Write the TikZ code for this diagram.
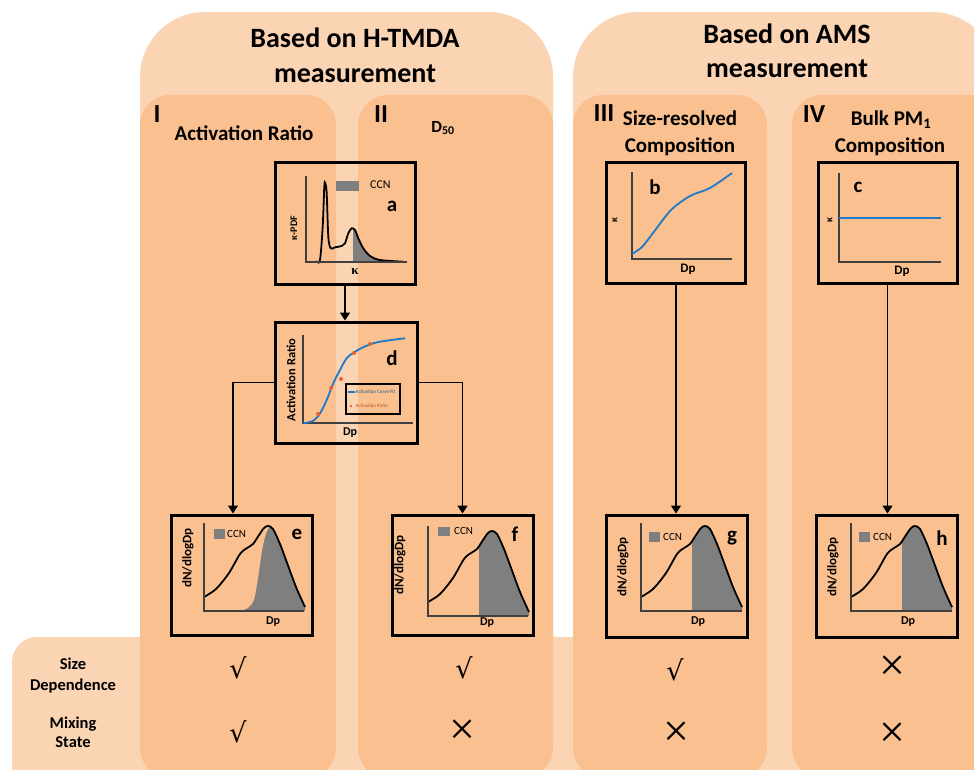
\documentclass[tikz,border=0pt]{standalone}
\usepackage{fontspec}
\setmainfont{Carlito}
\newfontfamily\dvs{DejaVu Sans}
\newfontfamily\lserif{Liberation Serif}
\usetikzlibrary{arrows.meta}
\definecolor{lightp}{HTML}{FBD4B4}
\definecolor{darkp}{HTML}{FAC090}
\definecolor{ccngray}{HTML}{7F7F7F}
\definecolor{axisc}{HTML}{404040}
\definecolor{curveblue}{HTML}{1F78C8}
\definecolor{dotred}{HTML}{E8642A}
\begin{document}
\begin{tikzpicture}[x=1pt,y=-1pt,
 panelbox/.style={draw=black,line width=3pt,inner sep=0pt},
 arr/.style={line width=1.6pt,-{Triangle[width=10pt,length=8pt]}},
 axisln/.style={draw=axisc,line width=1.8pt},
 crv/.style={line width=1.8pt},
 bigtitle/.style={font=\bfseries\fontsize{28}{28}\selectfont,anchor=base,inner sep=0pt},
 collab/.style={font=\bfseries\fontsize{21}{21}\selectfont,anchor=base,inner sep=0pt},
 numlab/.style={font=\bfseries\fontsize{26}{26}\selectfont,anchor=base,inner sep=0pt},
 rowlab/.style={font=\bfseries\fontsize{16.5}{16.5}\selectfont,anchor=base,inner sep=0pt},
 sym/.style={font=\dvs\fontsize{27}{27}\selectfont,inner sep=0pt},
 xsym/.style={font=\lserif\fontsize{46}{46}\selectfont,inner sep=0pt},
 letter/.style={font=\bfseries\fontsize{21}{21}\selectfont,inner sep=0pt},
 dplab/.style={font=\bfseries\fontsize{12}{12}\selectfont,inner sep=0pt},
 dplabb/.style={font=\bfseries\fontsize{13}{13}\selectfont,inner sep=0pt},
 ylab/.style={font=\bfseries\fontsize{13}{13}\selectfont,rotate=90,inner sep=0pt},
 ccnlab/.style={font=\fontsize{11}{11}\selectfont,anchor=west,inner sep=0pt},
]
\useasboundingbox (0,0) rectangle (974,769);
\clip (0,0) rectangle (974,769);
\fill[white] (0,0) rectangle (974,769);
% backgrounds
\fill[lightp,rounded corners=25pt] (12,637) rectangle (1010,800);
\fill[lightp,rounded corners=65pt] (140,12) rectangle (553,850);
\fill[lightp,rounded corners=65pt] (573,12) rectangle (997,850);
\fill[darkp,rounded corners=30pt] (140,95) rectangle (336,778);
\fill[darkp,rounded corners=30pt] (358,95) rectangle (553,778);
\fill[darkp,rounded corners=30pt] (573,95) rectangle (767,778);
\fill[darkp,rounded corners=30pt] (792,95) rectangle (1010,778);
% titles
\node[bigtitle] (t1a) at (355,47) {Based on H-TMDA};
\node[bigtitle] (t1b) at (355,82) {measurement};
\node[bigtitle] (t2a) at (787,43) {Based on AMS};
\node[bigtitle] (t2b) at (787,77) {measurement};
\node[numlab] (c1) at (157,122) {I};
\node[collab] (c1t) at (244,140) {Activation Ratio};
\node[numlab] (c2) at (381,122) {II};
\node[collab,font=\bfseries\fontsize{17}{17}\selectfont] (c2t) at (443,132) {D\textsubscript{50}};
\node[numlab] (c3) at (604,121) {III};
\node[collab] (c3t) at (680,125) {Size-resolved};
\node[collab] (c3u) at (680,152) {Composition};
\node[numlab] (c4) at (814,122) {IV};
\node[collab] (c4t) at (891,125) {Bulk PM\textsubscript{1}};
\node[collab] (c4u) at (890,152) {Composition};
% row labels
\node[rowlab] (r1a) at (73,669) {Size};
\node[rowlab] (r1b) at (73,690) {Dependence};
\node[rowlab] (r2a) at (73,728) {Mixing};
\node[rowlab] (r2b) at (73,747) {State};
\node[sym] (s11) at (238,668) {√};
\node[sym] (s12) at (238,732) {√};
\node[sym] (s21) at (464,668) {√};
\node[xsym] (s22) at (462,732) {×};
\node[sym] (s31) at (675,670) {√};
\node[xsym] (s32) at (676,734) {×};
\node[xsym] (s41) at (892,668) {×};
\node[xsym] (s42) at (892,735) {×};
% panels
\node[panelbox,minimum width=140,minimum height=122] (a) at (345,223) {};
\node[panelbox,minimum width=142,minimum height=121] (d) at (346,382.5) {};
\node[panelbox,minimum width=139,minimum height=121] (b) at (676,222.5) {};
\node[panelbox,minimum width=139,minimum height=121] (c) at (887.5,222.5) {};
\node[panelbox,minimum width=141,minimum height=120] (e) at (241.5,575) {};
\node[panelbox,minimum width=141,minimum height=120] (f) at (462.5,575) {};
\node[panelbox,minimum width=141,minimum height=122] (g) at (676.5,576) {};
\node[panelbox,minimum width=141,minimum height=122] (h) at (886.5,576) {};
% connectors
\coordinate (ein) at ([xshift=-8.5pt]e.north);
\draw[arr] (a.south) -- (a.south |- d.north);
\draw[arr] (d.west) -| (ein);
\draw[arr] (d.east) -| (f.north);
\draw[arr] (b.south) -- (b.south |- g.north);
\draw[arr] (c.south) -- (c.south |- h.north);
% panel a
\begin{scope}
\clip (353,150) rectangle (410,262);
\fill[ccngray] plot[smooth,tension=0.5] coordinates {(316.7,261.7) (320,260) (322.7,226.7) (324.3,186.7) (325.3,183.3) (326.7,193.3) (328.3,236.7) (330.7,248.3) (335,247.3) (341.7,246) (345,243.3) (348.3,233.3) (351.7,228.3) (355,230) (358.3,238.3) (363.3,248.3) (370,256) (380,260) (403.3,261.7)} -- (403.3,262) -- cycle;
\end{scope}
\draw[crv,black] plot[smooth,tension=0.5] coordinates {(312,262) (316.7,261.7) (320,260) (322.7,226.7) (324.3,186.7) (325.3,183.3) (326.7,193.3) (328.3,236.7) (330.7,248.3) (335,247.3) (341.7,246) (345,243.3) (348.3,233.3) (351.7,228.3) (355,230) (358.3,238.3) (363.3,248.3) (370,256) (380,260) (403.3,261.7)};
\draw[axisln] (306,176) -- (306,262) -- (407,262);
\node[ylab,font=\bfseries\fontsize{10}{10}\selectfont] (aylab) at (294,228) {κ-PDF};
\node[inner sep=0pt,font=\lserif\bfseries\fontsize{13}{13}\selectfont] (axlab) at (355,272) {κ};
\fill[ccngray] (336,181) rectangle (359,191);
\node[ccnlab,font=\fontsize{12}{12}\selectfont] (accn) at (370,185) {CCN};
\node[letter] (alet) at (392,206) {a};
% panel d
\draw[axisln] (303,335) -- (303,423) -- (413,423);
\draw[crv,curveblue] plot[smooth,tension=0.6] coordinates {(303.3,423.3) (313.3,420.7) (320,413.3) (326.7,400) (333.3,383.3) (340,370) (346.7,358.3) (355,351.7) (366.7,345.7) (380,341.7) (405,338.3)};
\foreach \p in {(318,414),(331,388),(341,379),(354,353),(370,344)} \fill[dotred] \p circle (2);
\node[draw=black,line width=1.3pt,minimum width=54,minimum height=30,inner sep=0pt] (dleg) at (373,399) {};
\draw[curveblue,line width=1.5pt] (348,392) -- (355,392);
\node[inner sep=0pt,anchor=west,font=\fontsize{5}{5}\selectfont,text=curveblue!70!black] (dl1) at (355.5,392) {Activation Curve Fit};
\fill[dotred] (351,406) circle (1.3);
\node[inner sep=0pt,anchor=west,font=\fontsize{5}{5}\selectfont,text=dotred!80!black] (dl2) at (355.5,406) {Activation Ratio};
\node[ylab,font=\bfseries\fontsize{12.5}{12.5}\selectfont] (dylab) at (291,380) {Activation Ratio};
\node[dplab] (dxlab) at (350,433) {Dp};
\node[letter] (dlet) at (392,358) {d};
% panel b
\draw[axisln] (632,172) -- (632,259) -- (732,259);
\draw[crv,curveblue] plot[smooth,tension=0.5] coordinates {(632,254) (642,247) (653,233) (671,210) (690,196) (710,188) (732,173)};
\node[ylab,font=\bfseries\fontsize{10}{10}\selectfont] (bylab) at (615,220) {κ};
\node[dplabb] (bxlab) at (688,269) {Dp};
\node[letter] (blet) at (655,187) {b};
% panel c
\draw[axisln] (839,173) -- (839,262) -- (941,262);
\draw[crv,curveblue] (839,218) -- (941,218);
\node[ylab,font=\bfseries\fontsize{10}{10}\selectfont] (cylab) at (830,220) {κ};
\node[dplabb] (cxlab) at (902,271) {Dp};
\node[letter] (clet) at (858,187) {c};
% panel e
\begin{scope}[shift={(204,611)}]
\fill[ccngray] plot[smooth,tension=0.5] coordinates {(36,0) (44,-3) (50,-11) (54,-32) (58,-60) (62,-77) (66,-84) (69,-82) (76,-67) (82,-51) (92,-24) (101,-4)} -- (101,0) -- cycle;
\draw[crv,black] plot[smooth,tension=0.5] coordinates {(0,-14) (12,-22) (25,-38) (36,-57) (43,-63) (49,-67) (55,-76) (60,-83) (64,-85) (69,-82) (76,-67) (82,-51) (92,-24) (101,-4)};
\draw[axisln] (0,-88) -- (0,0) -- (100,0);
\fill[ccngray] (10,-82) rectangle (21,-72);
\node[ccnlab] (eccn) at (23,-77) {CCN};
\end{scope}
\node[ylab] (eylab) at (188,558) {dN/dlogDp};
\node[dplab] (exlab) at (273,622) {Dp};
\node[letter] (elet) at (297,534) {e};
% panel f
\begin{scope}[shift={(428,616)}]
\begin{scope}
\clip (51,-100) rectangle (104,0);
\fill[ccngray] plot[smooth,tension=0.5] coordinates {(0,-14) (12,-22) (25,-38) (36,-57) (43,-63) (49,-67) (55,-76) (60,-83) (64,-85) (69,-82) (76,-67) (82,-51) (92,-24) (101,-4)} -- (101,0) -- (0,0) -- cycle;
\end{scope}
\draw[crv,black] plot[smooth,tension=0.5] coordinates {(0,-14) (12,-22) (25,-38) (36,-57) (43,-63) (49,-67) (55,-76) (60,-83) (64,-85) (69,-82) (76,-67) (82,-51) (92,-24) (101,-4)};
\draw[axisln] (0,-90) -- (0,0) -- (100,0);
\fill[ccngray] (10,-89) rectangle (22,-80);
\node[ccnlab] (fccn) at (26,-85) {CCN};
\end{scope}
\node[ylab] (fylab) at (400,565) {dN/dlogDp};
\node[dplab] (fxlab) at (487,623) {Dp};
\node[letter] (flet) at (515,534) {f};
% panel g
\begin{scope}[shift={(641,611)}]
\begin{scope}
\clip (51,-100) rectangle (104,0);
\fill[ccngray] plot[smooth,tension=0.5] coordinates {(0,-14) (12,-22) (25,-38) (36,-57) (43,-63) (49,-67) (55,-76) (60,-83) (64,-85) (69,-82) (76,-67) (82,-51) (92,-24) (101,-4)} -- (101,0) -- (0,0) -- cycle;
\end{scope}
\draw[crv,black] plot[smooth,tension=0.5] coordinates {(0,-14) (12,-22) (25,-38) (36,-57) (43,-63) (49,-67) (55,-76) (60,-83) (64,-85) (69,-82) (76,-67) (82,-51) (92,-24) (101,-4)};
\draw[axisln] (0,-88) -- (0,0) -- (101,0);
\fill[ccngray] (8,-79) rectangle (19,-69);
\node[ccnlab] (gccn) at (22,-74) {CCN};
\end{scope}
\node[ylab] (gylab) at (623,567) {dN/dlogDp};
\node[dplab] (gxlab) at (698,622) {Dp};
\node[letter] (glet) at (732,538) {g};
% panel h
\begin{scope}[shift={(851,611)}]
\begin{scope}
\clip (51,-100) rectangle (104,0);
\fill[ccngray] plot[smooth,tension=0.5] coordinates {(0,-14) (12,-22) (25,-38) (36,-57) (43,-63) (49,-67) (55,-76) (60,-83) (64,-85) (69,-82) (76,-67) (82,-51) (92,-24) (101,-4)} -- (101,0) -- (0,0) -- cycle;
\end{scope}
\draw[crv,black] plot[smooth,tension=0.5] coordinates {(0,-14) (12,-22) (25,-38) (36,-57) (43,-63) (49,-67) (55,-76) (60,-83) (64,-85) (69,-82) (76,-67) (82,-51) (92,-24) (101,-4)};
\draw[axisln] (0,-88) -- (0,0) -- (101,0);
\fill[ccngray] (8,-79) rectangle (19,-69);
\node[ccnlab] (hccn) at (22,-74) {CCN};
\end{scope}
\node[ylab] (hylab) at (833,567) {dN/dlogDp};
\node[dplab] (hxlab) at (908,622) {Dp};
\node[letter] (hlet) at (942,538) {h};
\end{tikzpicture}
\end{document}
